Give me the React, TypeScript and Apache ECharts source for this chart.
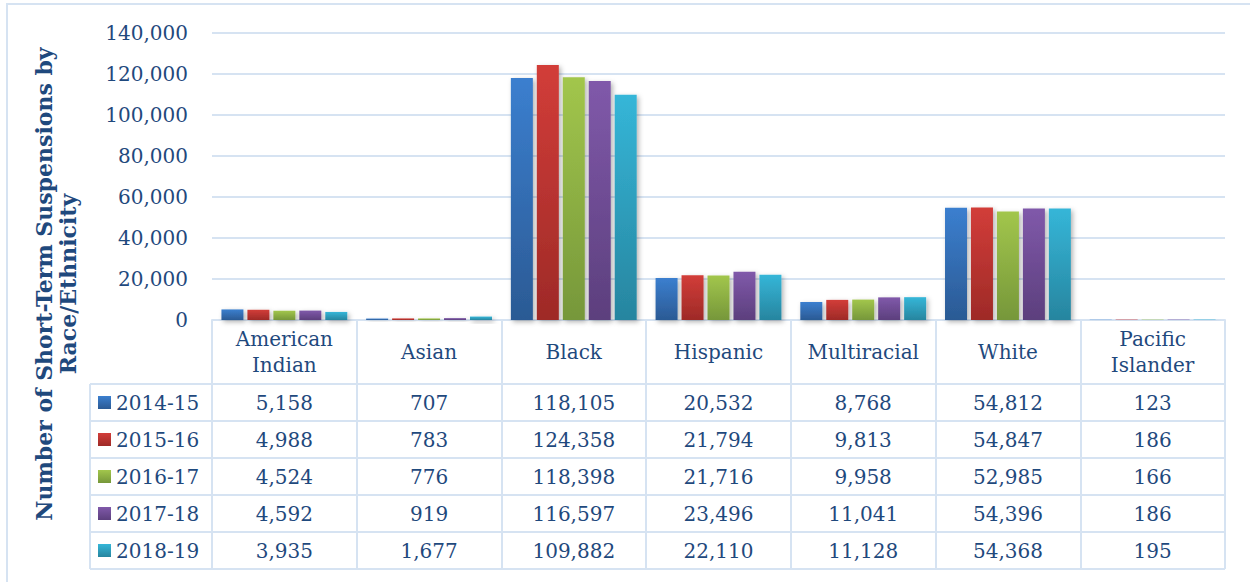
import React, { useEffect, useRef } from "react";
import * as echarts from "echarts";

const categories = ["American\nIndian", "Asian", "Black", "Hispanic", "Multiracial", "White", "Pacific\nIslander"];
const years = ["2014-15", "2015-16", "2016-17", "2017-18", "2018-19"];
const v2014 = [5158, 707, 118105, 20532, 8768, 54812, 123];
const v2015 = [4988, 783, 124358, 21794, 9813, 54847, 186];
const v2016 = [4524, 776, 118398, 21716, 9958, 52985, 166];
const v2017 = [4592, 919, 116597, 23496, 11041, 54396, 186];
const v2018 = [3935, 1677, 109882, 22110, 11128, 54368, 195];
const seriesValues = [v2014, v2015, v2016, v2017, v2018];
const yTicks = [0, 20000, 40000, 60000, 80000, 100000, 120000, 140000];

const colors: [string, string][] = [
  ["#3b7fcf", "#2b5a94"],
  ["#d23d39", "#9e2a27"],
  ["#a2c64c", "#76973a"],
  ["#8059aa", "#5c3f7d"],
  ["#35b6d8", "#27859f"],
];

const FONT = "'DejaVu Serif', 'Liberation Serif', serif";
const TXT = "#1f497d";
const LINE = "#d6e3f2";

const W = 1250, H = 582;
const GL = 212, GR = 25, GT = 33, GB = H - 320;
const rowTops = [384, 421, 458, 495, 532, 569];

const fmt = (n: number) => n.toLocaleString("en-US");

export default function App() {
  const ref = useRef<HTMLDivElement>(null);
  useEffect(() => {
    if (!ref.current) return;
    const chart = echarts.init(ref.current, null, { renderer: "svg" });
    const plotW = W - GL - GR;
    const colW = plotW / categories.length;
    const graphics: any[] = [];
    graphics.push({ type: "rect", shape: { x: 7, y: 4, width: 1260, height: 600 }, style: { fill: "none", stroke: LINE, lineWidth: 2 }, silent: true });
    rowTops.forEach((y) => {
      graphics.push({ type: "line", shape: { x1: 90, y1: y, x2: W - GR, y2: y }, style: { stroke: LINE, lineWidth: 2 } });
    });
    graphics.push({ type: "line", shape: { x1: 90, y1: rowTops[0], x2: 90, y2: rowTops[rowTops.length - 1] }, style: { stroke: LINE, lineWidth: 2 } });
    categories.forEach((c, i) => {
      graphics.push({ type: "text", x: GL + colW * (i + 0.5), y: 352, style: { text: c, font: `20px ${FONT}`, fill: TXT, align: "center", verticalAlign: "middle", lineHeight: 26 } });
    });
    years.forEach((yr, r) => {
      const cy = (rowTops[r] + rowTops[r + 1]) / 2;
      graphics.push({ type: "rect", shape: { x: 98, y: cy - 6.5, width: 13, height: 13 }, style: { fill: new echarts.graphic.LinearGradient(0, 0, 0, 1, [{ offset: 0, color: colors[r][0] }, { offset: 1, color: colors[r][1] }]) } });
      graphics.push({ type: "text", x: 116, y: cy, style: { text: yr, font: `20px ${FONT}`, fill: TXT, align: "left", verticalAlign: "middle" } });
      seriesValues[r].forEach((v, i) => {
        graphics.push({ type: "text", x: GL + colW * (i + 0.5), y: cy, style: { text: fmt(v), font: `20px ${FONT}`, fill: TXT, align: "center", verticalAlign: "middle" } });
      });
    });
    graphics.push({ type: "text", x: 56, y: 284, rotation: Math.PI / 2, style: { text: "Number of Short-Term Suspensions by\nRace/Ethnicity", font: `bold 22px ${FONT}`, fill: TXT, align: "center", verticalAlign: "middle", lineHeight: 24 } });

    chart.setOption({
      animation: false,
      grid: { left: GL, right: GR, top: GT, bottom: GB },
      xAxis: {
        type: "category",
        data: categories,
        axisLine: { lineStyle: { color: LINE, width: 2 } },
        axisTick: { show: true, interval: 0, length: rowTops[rowTops.length - 1] - 320, lineStyle: { color: LINE, width: 2 } },
        axisLabel: { show: false },
      },
      yAxis: {
        type: "value",
        min: 0,
        max: 140000,
        interval: 20000,
        axisLine: { show: false },
        axisTick: { show: false },
        splitLine: { lineStyle: { color: LINE, width: 2 } },
        axisLabel: { formatter: (v: number) => (yTicks.includes(v) ? fmt(v) : ""), fontFamily: FONT, fontSize: 20, color: TXT, margin: 24 },
      },
      series: years.map((yr, r) => ({
        name: yr,
        type: "bar",
        data: seriesValues[r],
        barWidth: 22,
        barGap: "18%",
        itemStyle: {
          color: new echarts.graphic.LinearGradient(0, 0, 0, 1, [{ offset: 0, color: colors[r][0] }, { offset: 1, color: colors[r][1] }]),
          shadowColor: "rgba(0,0,0,0.3)",
          shadowBlur: 5,
          shadowOffsetX: 2,
          shadowOffsetY: 2,
        },
      })),
      graphic: graphics,
    });
    return () => chart.dispose();
  }, []);
  return <div ref={ref} style={{ position: "fixed", left: 0, top: 0, width: W, height: H, background: "#fff" }} />;
}
